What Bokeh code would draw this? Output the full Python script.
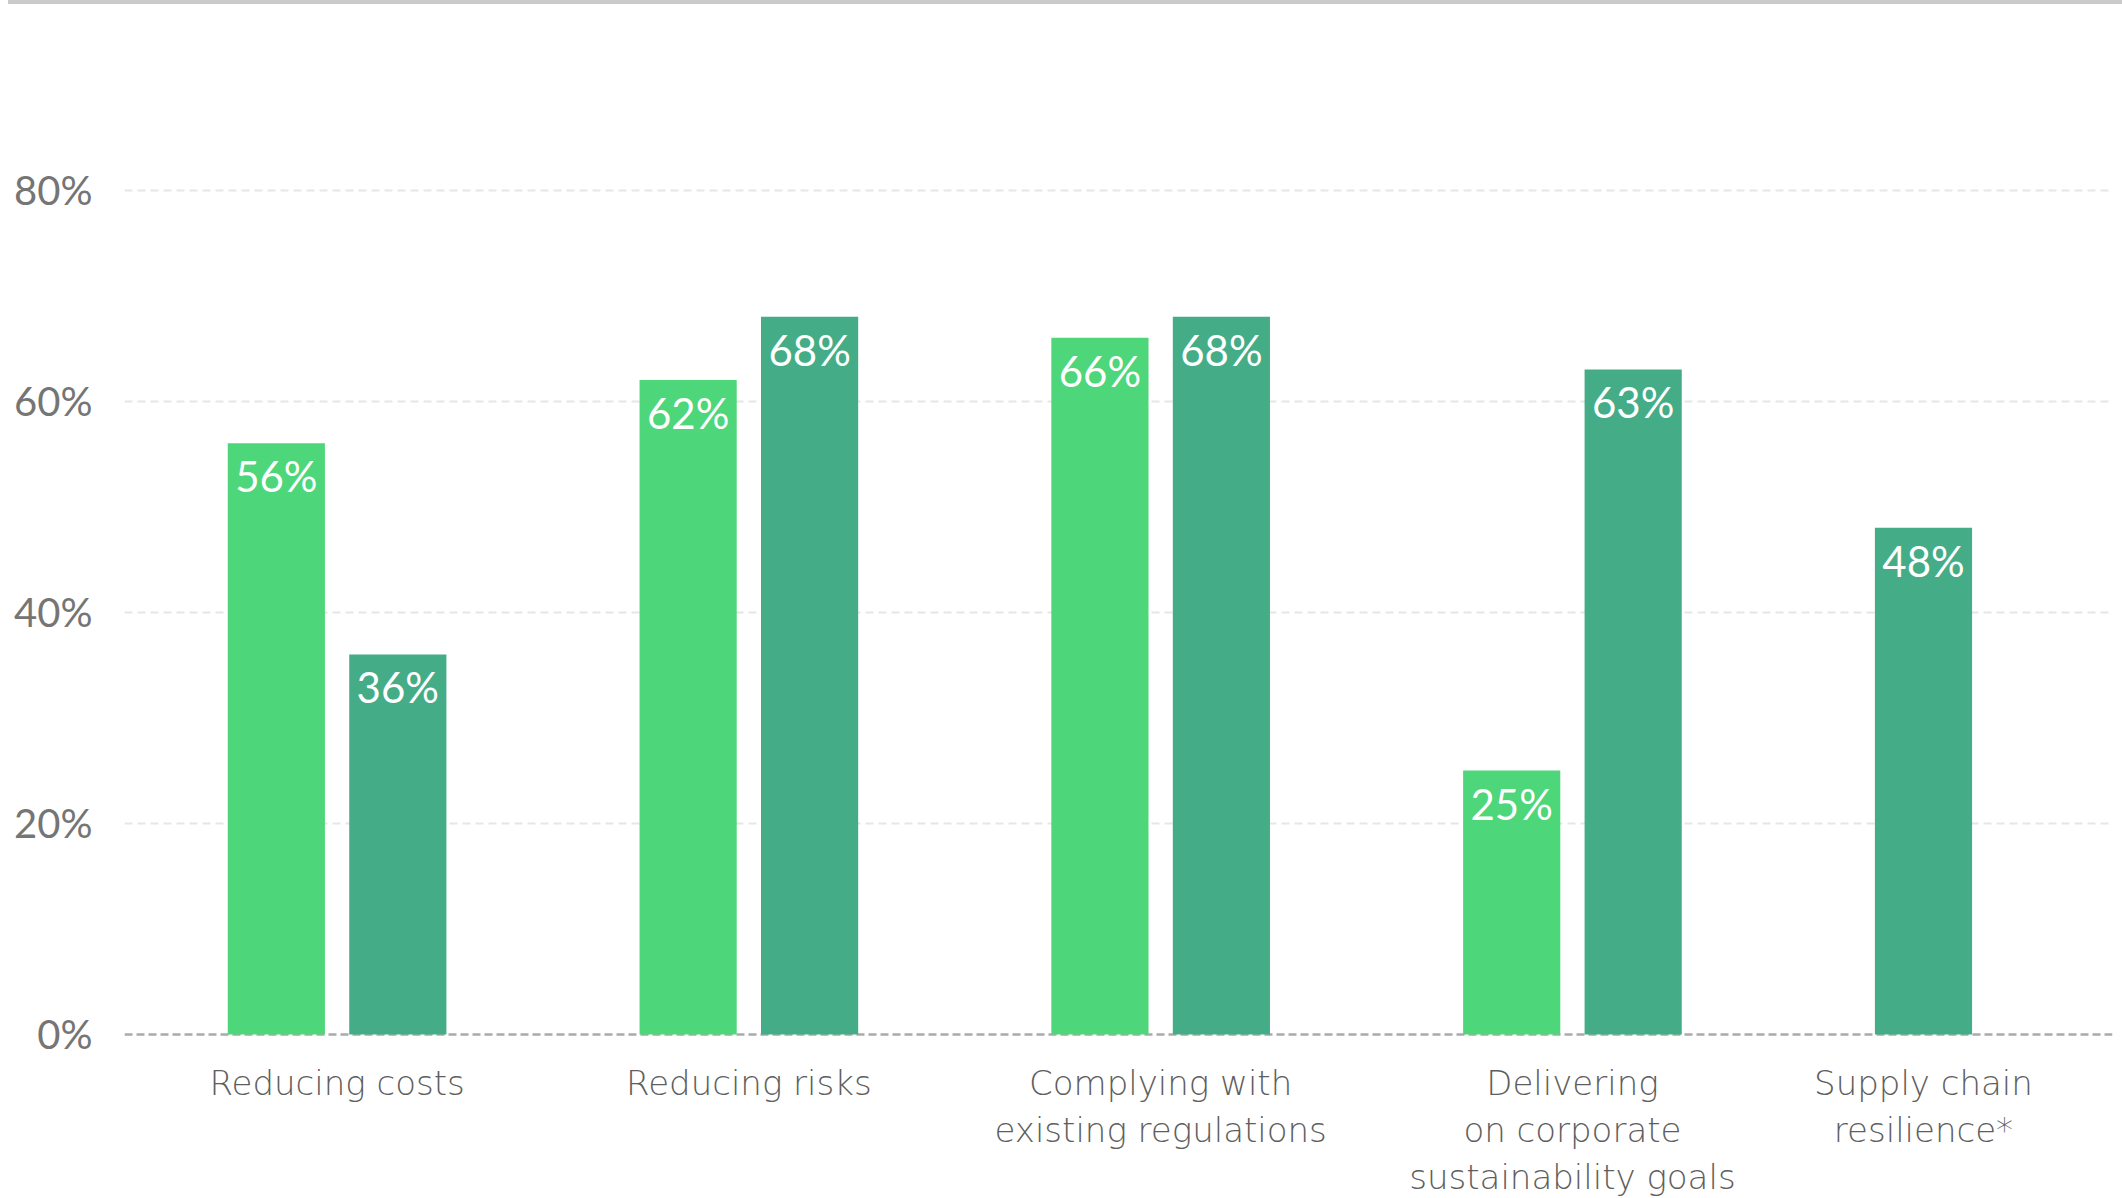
from bokeh.plotting import figure
from bokeh.models import (ColumnDataSource, FactorRange, Range1d, FixedTicker,
                          PrintfTickFormatter, Span, LabelSet, Div)
from bokeh.transform import dodge
from bokeh.layouts import column
from bokeh.core.properties import value
from bokeh.embed import file_html
from bokeh.resources import INLINE

# ---------------- data ----------------
categories = [
    "Reducing costs",
    "Reducing risks",
    "Complying with\nexisting regulations",
    "Delivering\non corporate\nsustainability goals",
    "Supply chain\nresilience*",
]
series_keys = ["a", "b"]
series_a = [56, 62, 66, 25, None]
series_b = [36, 68, 68, 63, 48]
y_ticks = [0, 20, 40, 60, 80]

# ---------------- style ----------------
colors = {"a": "#4ed67a", "b": "#44ad87"}
NUM_FONT = "Lato"
CAT_FONT = "DejaVu Sans Light, DejaVu Sans ExtraLight, Open Sans"
LABEL_GREY = "#5e5e5e"
LINE_PITCH = 47      # px between lines of a category label
FIRST_OFFSET = 29    # px from the zero line to the first label line

# build nested factors and bar table from the arrays
factors = []
bx, btop, bcol, blab = [], [], [], []
for c, va, vb in zip(categories, series_a, series_b):
    for key, v in zip(series_keys, (va, vb)):
        if v is None:
            continue
        factors.append((c, key))
        bx.append((c, key))
        btop.append(v)
        bcol.append(colors[key])
        blab.append(f"{v}%")
bars = ColumnDataSource(dict(x=bx, top=btop, color=bcol, label=blab))

# one row per text line of each category label
lx, ly, ltext, loff = [], [], [], []
for c in categories:
    for i, line in enumerate(c.split("\n")):
        lx.append(c)
        ly.append(y_ticks[0])
        ltext.append(line)
        loff.append(-(FIRST_OFFSET + i * LINE_PITCH))
cats = ColumnDataSource(dict(x=lx, y=ly, text=ltext, off=loff))

GP = 1.39
PAD_LEFT, PAD_RIGHT = 0.75, 1.056
PAD_SIDE = (PAD_LEFT + PAD_RIGHT) / 2      # absolute padding applied on each side
SHIFT = PAD_LEFT - PAD_SIDE
xr = FactorRange(*factors, group_padding=GP, factor_padding=0.0,
                 range_padding=PAD_SIDE, range_padding_units="absolute")

p = figure(x_range=xr, y_range=Range1d(-15.54, 92.27), width=2122, height=1194,
           output_backend="svg", toolbar_location=None, x_axis_location=None,
           min_border_left=124, min_border_right=10, min_border_top=56,
           min_border_bottom=0)
p.outline_line_color = None
p.background_fill_color = "white"
p.border_fill_color = "white"

# grid
p.xgrid.grid_line_color = None
p.ygrid.ticker = FixedTicker(ticks=y_ticks[1:])
p.ygrid.grid_line_color = "#e6e6e6"
p.ygrid.grid_line_width = 2
p.ygrid.grid_line_dash = "8 5"

zero_line = Span(location=y_ticks[0], dimension="width", line_color="#aaaaaa",
                 line_width=2.5, line_dash="8 4", level="underlay")
p.add_layout(zero_line)

# y axis
yax = p.yaxis[0]
yax.ticker = FixedTicker(ticks=y_ticks)
yax.formatter = PrintfTickFormatter(format="%d%%")
yax.axis_line_color = None
yax.major_tick_line_color = None
yax.minor_tick_line_color = None
yax.major_tick_out = 0
yax.major_tick_in = 0
yax.major_label_standoff = 32
yax.major_label_text_font = NUM_FONT
yax.major_label_text_font_size = "40px"
yax.major_label_text_color = "#757575"

xpos = dodge("x", SHIFT, range=xr)

# bars
p.vbar(x=xpos, top="top", bottom=0, width=0.8, source=bars,
       fill_color="color", line_color=None)

# value labels inside bars
p.text(x=xpos, y="top", text="label", source=bars, text_color="white",
       text_font=value(NUM_FONT), text_font_size="42px", text_align="center",
       text_baseline="middle", y_offset=33)

# category labels (each line centred under its group)
cat_labels = LabelSet(x=xpos, y="y", text="text", source=cats,
                      text_align="center", text_baseline="top", y_offset="off",
                      text_font=value(CAT_FONT), text_font_size="34px",
                      text_color=LABEL_GREY)
p.add_layout(cat_labels)

top_rule = Div(text="", width=2114, height=4, margin=(0, 0, 0, 8),
               styles={"background-color": "#cacaca"})

layout = column(top_rule, p, spacing=0)

open("out.html", "w").write(file_html(layout, INLINE))
